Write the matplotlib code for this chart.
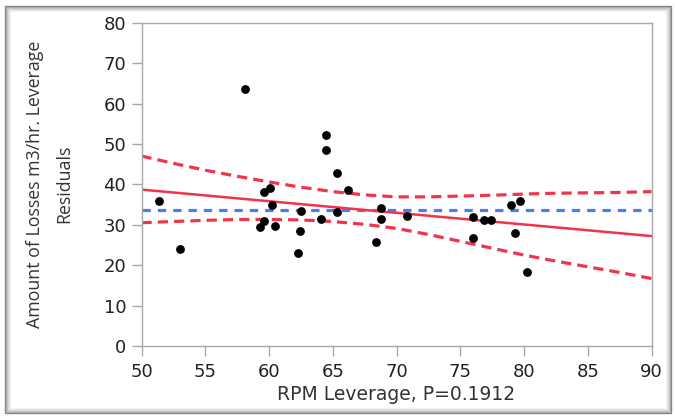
import numpy as np
import matplotlib
matplotlib.use("Agg")
import matplotlib.pyplot as plt
from matplotlib.patches import Rectangle

# RPM leverage vs residuals
rpm = [51.4, 53.0, 58.1, 59.6, 60.1, 60.2, 59.6, 59.3, 60.5, 62.5,
       62.4, 62.3, 64.5, 64.5, 65.3, 66.2, 64.1, 65.3, 68.8, 68.8,
       68.4, 70.8, 76.0, 76.0, 76.9, 77.4, 79.0, 79.7, 79.3, 80.2]
losses = [36.0, 23.9, 63.5, 38.0, 39.0, 35.0, 30.9, 29.5, 29.6, 33.3,
          28.4, 23.0, 52.3, 48.6, 42.9, 38.7, 31.5, 33.1, 34.2, 31.4,
          25.8, 32.1, 31.9, 26.8, 31.3, 31.1, 35.0, 36.0, 28.0, 18.3]

# fitted line, mean line and confidence curves
fit_x = [50, 90]
fit_y = [38.7, 27.2]
mean_y = 33.7
band_x = [50, 52.5, 55, 57.5, 60, 62.5, 65, 67.5, 70, 72.5, 75, 77.5, 80, 82.5, 85, 87.5, 90]
band_upper = [47.0, 45.2, 43.5, 42.0, 40.6, 39.3, 38.2, 37.4, 36.9, 36.9, 37.1, 37.3, 37.6, 37.8, 37.9, 38.0, 38.2]
band_lower = [30.5, 30.8, 31.1, 31.3, 31.3, 31.2, 30.8, 30.1, 29.1, 27.6, 25.9, 24.2, 22.5, 21.0, 19.6, 18.2, 16.7]

red = '#f0344a'
blue = '#4a7ef0'
grey = '#a8a8a8'

plt.rcParams['font.family'] = ['DejaVu Sans']

W, H = 675, 418
fig = plt.figure(figsize=(W / 100, H / 100), dpi=100)
fig.patch.set_facecolor('white')

# frame with a soft shadow
for i, a in enumerate([0.9, 0.5, 0.35, 0.22, 0.13, 0.06]):
    x0, y0 = 5 + i, 6 + i
    x1, y1 = 671 - i, 413 - i
    fig.add_artist(Rectangle((x0 / W, 1 - y1 / H), (x1 - x0) / W, (y1 - y0) / H,
                             transform=fig.transFigure, fill=False,
                             edgecolor='#7a7a7a', alpha=a, lw=1.0))

ax = fig.add_axes([141.5 / W, 1 - 346 / H, 510 / W, 323.3 / H])

ax.plot(band_x, band_upper, color=red, lw=2.3, dashes=(3.2, 1.9))
ax.plot(band_x, band_lower, color=red, lw=2.3, dashes=(3.2, 1.9))
ax.axhline(mean_y, color=blue, lw=2.3, dashes=(2.6, 2.2))
ax.plot(fit_x, fit_y, color=red, lw=1.8)
ax.scatter(rpm, losses, s=40, color='black', zorder=5, linewidths=0)

ax.set_xlim(50, 90)
ax.set_ylim(0, 80)
ax.set_xticks(np.arange(50, 91, 5))
ax.set_yticks(np.arange(0, 81, 10))

for s in ax.spines.values():
    s.set_color(grey)
    s.set_linewidth(1.0)
ax.tick_params(colors=grey, length=7, width=1.0, labelcolor='#222222',
               labelsize=13, pad=4)
ax.tick_params(axis='x', pad=5)

ax.set_xlabel('RPM Leverage, P=0.1912', fontsize=13.5, color='#333333', labelpad=3)
fig.text(50 / W, 1 - 184 / H, 'Amount of Losses m3/hr. Leverage\nResiduals',
         rotation=90, ha='center', va='center', multialignment='center',
         fontsize=12.8, color='#333333', linespacing=1.8, family='Open Sans')

fig.savefig('out.png', dpi=100)
